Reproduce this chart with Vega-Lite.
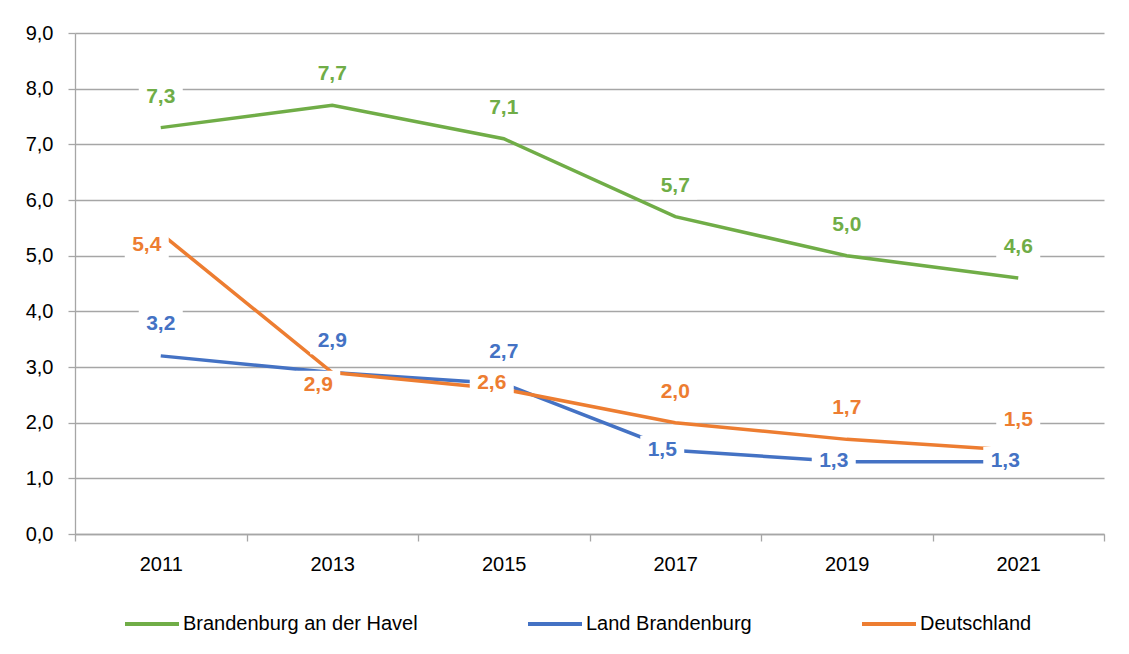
{
  "$schema": "https://vega.github.io/schema/vega-lite/v6.json",
  "width": 1029,
  "height": 501,
  "autosize": {"type": "none"},
  "padding": {"left": 75, "top": 33, "right": 25, "bottom": 120},
  "background": "white",
  "config": {
    "locale": {"number": {"decimal": ",", "thousands": ".", "grouping": [3], "currency": ["", " €"]}},
    "font": "Liberation Sans, Arial, sans-serif",
    "view": {"stroke": null},
    "axis": {
      "labelFont": "Liberation Sans, Arial, sans-serif",
      "labelFontSize": 20,
      "labelColor": "#000000",
      "domainColor": "#a6a6a6",
      "domainWidth": 1.3,
      "tickColor": "#a6a6a6",
      "tickWidth": 1.3,
      "tickSize": 7,
      "gridColor": "#a6a6a6",
      "gridWidth": 1.3
    },
    "legend": {
      "labelFont": "Liberation Sans, Arial, sans-serif"
    }
  },
  "data": {
    "values": [
      {"year": "2011", "series": "Brandenburg an der Havel", "value": 7.3},
      {"year": "2013", "series": "Brandenburg an der Havel", "value": 7.7},
      {"year": "2015", "series": "Brandenburg an der Havel", "value": 7.1},
      {"year": "2017", "series": "Brandenburg an der Havel", "value": 5.7},
      {"year": "2019", "series": "Brandenburg an der Havel", "value": 5.0},
      {"year": "2021", "series": "Brandenburg an der Havel", "value": 4.6},
      {"year": "2011", "series": "Land Brandenburg", "value": 3.2},
      {"year": "2013", "series": "Land Brandenburg", "value": 2.9},
      {"year": "2015", "series": "Land Brandenburg", "value": 2.7},
      {"year": "2017", "series": "Land Brandenburg", "value": 1.5},
      {"year": "2019", "series": "Land Brandenburg", "value": 1.3},
      {"year": "2021", "series": "Land Brandenburg", "value": 1.3},
      {"year": "2011", "series": "Deutschland", "value": 5.4},
      {"year": "2013", "series": "Deutschland", "value": 2.9},
      {"year": "2015", "series": "Deutschland", "value": 2.6},
      {"year": "2017", "series": "Deutschland", "value": 2.0},
      {"year": "2019", "series": "Deutschland", "value": 1.7},
      {"year": "2021", "series": "Deutschland", "value": 1.5}
    ]
  },
  "encoding": {
    "x": {
      "field": "year",
      "type": "ordinal",
      "title": null,
      "scale": {"type": "band", "paddingInner": 0, "paddingOuter": 0},
      "axis": {"labelAngle": 0, "tickBand": "extent", "labelPadding": 13, "grid": false}
    },
    "y": {
      "field": "value",
      "type": "quantitative",
      "title": null,
      "scale": {"domain": [0, 9], "nice": false, "zero": true},
      "axis": {"values": [0, 1, 2, 3, 4, 5, 6, 7, 8, 9], "format": ".1f", "labelPadding": 15, "grid": true}
    }
  },
  "layer": [
    {
      "mark": {"type": "line", "strokeWidth": 3.5},
      "encoding": {
        "color": {
          "field": "series",
          "type": "nominal",
          "scale": {
            "domain": ["Brandenburg an der Havel", "Land Brandenburg", "Deutschland"],
            "range": ["#70AD47", "#4472C4", "#ED7D31"]
          },
          "legend": {
            "title": null,
            "orient": "none",
            "legendX": 48,
            "legendY": 562,
            "direction": "horizontal",
            "symbolType": "stroke",
            "symbolSize": 2916,
            "symbolStrokeWidth": 4,
            "labelFontSize": 20,
            "labelColor": "#000000",
            "labelOffset": 2,
            "labelLimit": 400,
            "columnPadding": 102
          }
        }
      }
    },
    {
      "transform": [{"filter": "datum.series == 'Brandenburg an der Havel'"}],
      "layer": [
        {"mark": {"type": "point", "shape": "M-2,-1.25L2,-1.25L2,1.25L-2,1.25Z", "size": 484, "filled": true, "fill": "white", "opacity": 1, "strokeWidth": 0, "yOffset": -31}},
        {"mark": {"type": "text", "fontSize": 21, "fontWeight": "bold", "color": "#70AD47", "baseline": "middle", "align": "center", "dy": -31},
         "encoding": {"text": {"field": "value", "type": "quantitative", "format": ".1f"}}}
      ]
    },
    {
      "transform": [{"filter": "datum.series == 'Land Brandenburg' && indexof(['2011','2013','2015'], datum.year) >= 0"}],
      "layer": [
        {"mark": {"type": "point", "shape": "M-2,-1.25L2,-1.25L2,1.25L-2,1.25Z", "size": 484, "filled": true, "fill": "white", "opacity": 1, "strokeWidth": 0, "yOffset": -32}},
        {"mark": {"type": "text", "fontSize": 21, "fontWeight": "bold", "color": "#4472C4", "baseline": "middle", "align": "center", "dy": -32},
         "encoding": {"text": {"field": "value", "type": "quantitative", "format": ".1f"}}}
      ]
    },
    {
      "transform": [{"filter": "datum.series == 'Land Brandenburg' && indexof(['2017','2019','2021'], datum.year) >= 0"}],
      "layer": [
        {"mark": {"type": "point", "shape": "M-2,-1.25L2,-1.25L2,1.25L-2,1.25Z", "size": 484, "filled": true, "fill": "white", "opacity": 1, "strokeWidth": 0, "xOffset": -13, "yOffset": -1}},
        {"mark": {"type": "text", "fontSize": 21, "fontWeight": "bold", "color": "#4472C4", "baseline": "middle", "align": "center", "dx": -13, "dy": -1},
         "encoding": {"text": {"field": "value", "type": "quantitative", "format": ".1f"}}}
      ]
    },
    {
      "transform": [{"filter": "datum.series == 'Deutschland' && indexof(['2011','2013'], datum.year) >= 0"}],
      "layer": [
        {"mark": {"type": "point", "shape": "M-2,-1.25L2,-1.25L2,1.25L-2,1.25Z", "size": 484, "filled": true, "fill": "white", "opacity": 1, "strokeWidth": 0, "xOffset": -14, "yOffset": 12}},
        {"mark": {"type": "text", "fontSize": 21, "fontWeight": "bold", "color": "#ED7D31", "baseline": "middle", "align": "center", "dx": -14, "dy": 12},
         "encoding": {"text": {"field": "value", "type": "quantitative", "format": ".1f"}}}
      ]
    },
    {
      "transform": [{"filter": "datum.series == 'Deutschland' && datum.year == '2015'"}],
      "layer": [
        {"mark": {"type": "point", "shape": "M-2,-1.25L2,-1.25L2,1.25L-2,1.25Z", "size": 484, "filled": true, "fill": "white", "opacity": 1, "strokeWidth": 0, "xOffset": -12, "yOffset": -6}},
        {"mark": {"type": "text", "fontSize": 21, "fontWeight": "bold", "color": "#ED7D31", "baseline": "middle", "align": "center", "dx": -12, "dy": -6},
         "encoding": {"text": {"field": "value", "type": "quantitative", "format": ".1f"}}}
      ]
    },
    {
      "transform": [{"filter": "datum.series == 'Deutschland' && indexof(['2017','2019','2021'], datum.year) >= 0"}],
      "layer": [
        {"mark": {"type": "point", "shape": "M-2,-1.25L2,-1.25L2,1.25L-2,1.25Z", "size": 484, "filled": true, "fill": "white", "opacity": 1, "strokeWidth": 0, "yOffset": -31}},
        {"mark": {"type": "text", "fontSize": 21, "fontWeight": "bold", "color": "#ED7D31", "baseline": "middle", "align": "center", "dy": -31},
         "encoding": {"text": {"field": "value", "type": "quantitative", "format": ".1f"}}}
      ]
    }
  ]
}
